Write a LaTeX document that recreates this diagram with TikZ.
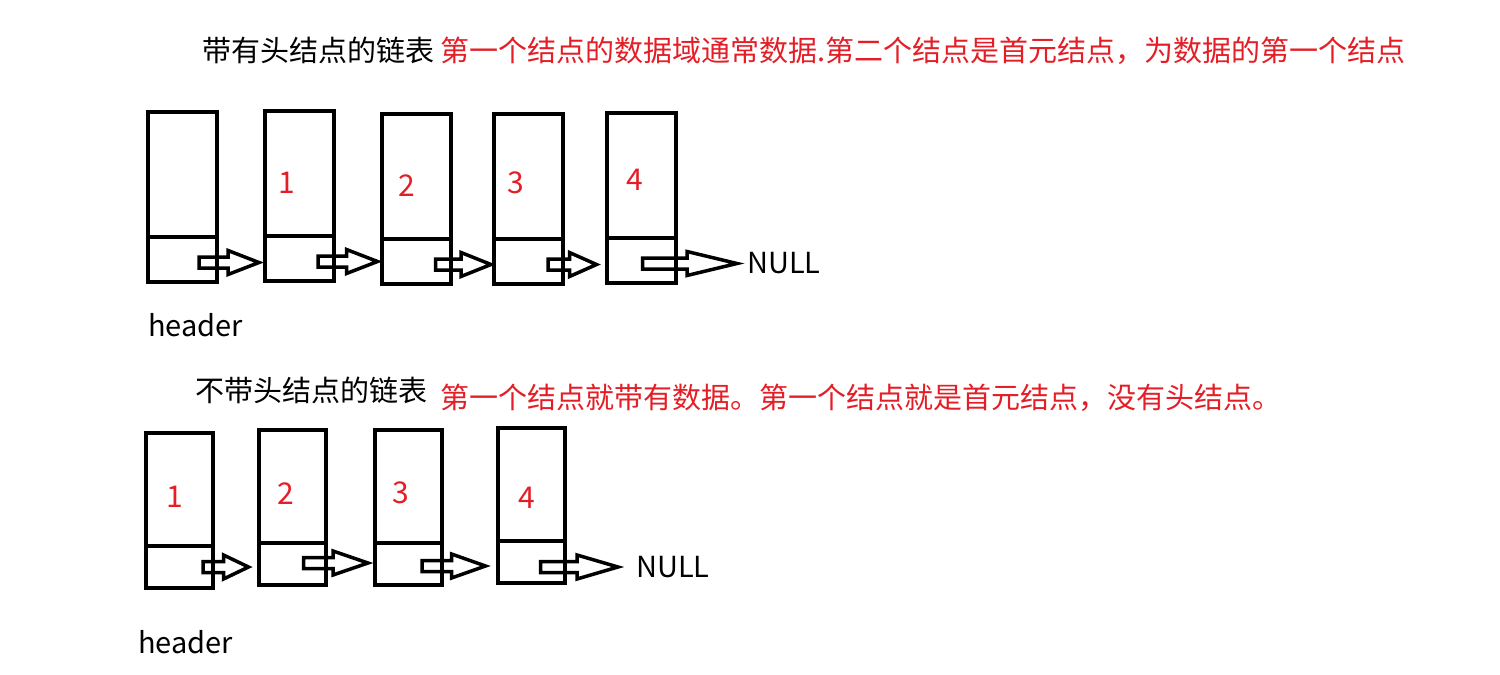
\documentclass[tikz,border=0pt]{standalone}
\usepackage{fontspec}
\setmainfont{Noto Sans CJK SC}
\usetikzlibrary{positioning}
\usetikzlibrary{calc}
\definecolor{notered}{RGB}{228,30,38}
\tikzset{
	datacell/.style={draw, line width=4pt, outer sep=0pt, minimum width=69pt, minimum height=125pt, anchor=north},
	ptrcell/.style={draw, line width=4pt, outer sep=0pt, minimum width=69pt, minimum height=45pt},
	ptrline/.style={line width=3.5pt, line join=miter},
	plaintext/.style={font=\fontsize{29}{30}\selectfont, inner sep=0pt},
	note/.style={plaintext, text=notered},
	val/.style={font=\fontsize{30}{30}\selectfont, text=notered, inner sep=0pt},
}
% hollow block arrow: [head length]{start}{tip}
\newcommand{\ptrarrow}[3][30]{%
	\draw[ptrline] ($(#2)+(0,-5.5)$) -- ($(#3 |- #2)+(-#1,-5.5)$) -- ($(#3 |- #2)+(-#1,-12)$) -- (#3 |- #2)
		-- ($(#3 |- #2)+(-#1,12)$) -- ($(#3 |- #2)+(-#1,5.5)$) -- ($(#2)+(0,5.5)$) -- cycle;}

\begin{document}
\begin{tikzpicture}[x=1pt, y=-1pt]
	\useasboundingbox (0,0) rectangle (1500,675);

	% with header node
	\node[plaintext, anchor=west] (title1) at (202,50) {带有头结点的链表};
	\node[note, anchor=west] (note1) at (440,51) {第一个结点的数据域通常数据.第二个结点是首元结点，为数据的第一个结点};

	\node[datacell] (d10) at (182.5,112) {};
	\node[ptrcell, below=0pt of d10] (n10) {};
	\node[datacell] (d11) at (299.5,111) {};
	\node[ptrcell, below=0pt of d11] (n11) {};
	\node[datacell] (d12) at (416,114) {};
	\node[ptrcell, below=0pt of d12] (n12) {};
	\node[datacell] (d13) at (528.5,114) {};
	\node[ptrcell, below=0pt of d13] (n13) {};
	\node[datacell] (d14) at (641,113) {};
	\node[ptrcell, below=0pt of d14] (n14) {};

	\node[val] (v11) at (287,183) {1};
	\node[val] (v12) at (407,186) {2};
	\node[val] (v13) at (516,183) {3};
	\node[val] (v14) at (635,180) {4};

	\coordinate (s10) at ($(n10.east)+(-18,3)$);
	\coordinate (t10) at ($(n11.west)+(-6,0)$);
	\coordinate (s11) at ($(n11.east)+(-16,3)$);
	\coordinate (t11) at ($(n12.west)+(-4,0)$);
	\coordinate (s12) at ($(n12.east)+(-15,3)$);
	\coordinate (t12) at ($(n13.west)+(-3,0)$);
	\coordinate (s13) at ($(n13.east)+(-15,3)$);
	\coordinate (t13) at ($(n14.west)+(-10,0)$);
	\coordinate (s14) at ($(n14.east)+(-33,3)$);
	\coordinate (t14) at (737,263);
	\ptrarrow[31]{s10}{t10}
	\ptrarrow[31]{s11}{t11}
	\ptrarrow[30]{s12}{t12}
	\ptrarrow[27]{s13}{t13}
	\ptrarrow[50]{s14}{t14}
	\node[plaintext, right=10pt of t14] (null1) {NULL};
	\node[plaintext, anchor=west] (header1) at (148,325) {header};

	% without header node
	\node[plaintext, anchor=west] (title2) at (195,390) {不带头结点的链表};
	\node[note, anchor=west] (note2) at (440,398) {第一个结点就带有数据。第一个结点就是首元结点，没有头结点。};

	\begin{scope}[datacell/.append style={minimum width=67pt, minimum height=113pt},
		ptrcell/.append style={minimum width=67pt, minimum height=42pt}]
	\node[datacell] (d21) at (179.5,433) {};
	\node[ptrcell, below=0pt of d21] (n21) {};
	\node[datacell] (d22) at (292,430) {};
	\node[ptrcell, below=0pt of d22] (n22) {};
	\node[datacell] (d23) at (408.5,430) {};
	\node[ptrcell, below=0pt of d23] (n23) {};
	\node[datacell] (d24) at (531,428) {};
	\node[ptrcell, below=0pt of d24] (n24) {};
	\end{scope}

	\node[val] (v21) at (175,497) {1};
	\node[val] (v22) at (286,494) {2};
	\node[val] (v23) at (401,493) {3};
	\node[val] (v24) at (527,498) {4};

	\coordinate (s21) at ($(n21.east)+(-10,0)$);
	\coordinate (t21) at ($(n22.west)+(-10,0)$);
	\coordinate (s22) at ($(n22.east)+(-22,-1)$);
	\coordinate (t22) at ($(n23.west)+(-7,0)$);
	\coordinate (s23) at ($(n23.east)+(-20,2)$);
	\coordinate (t23) at ($(n24.west)+(-12,0)$);
	\coordinate (s24) at ($(n24.east)+(-24,5)$);
	\coordinate (t24) at (618,567);
	\ptrarrow[25]{s21}{t21}
	\ptrarrow[35]{s22}{t22}
	\ptrarrow[34]{s23}{t23}
	\ptrarrow[41]{s24}{t24}
	\node[plaintext, right=18pt of t24] (null2) {NULL};
	\node[plaintext, anchor=west] (header2) at (138,642) {header};
\end{tikzpicture}
\end{document}
